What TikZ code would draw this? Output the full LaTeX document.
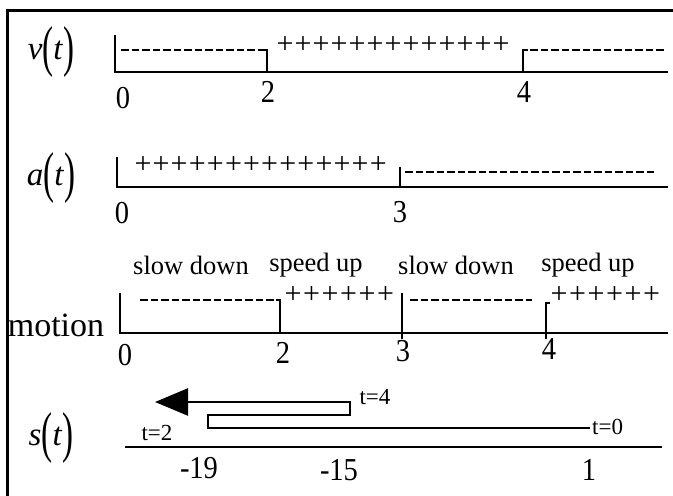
\documentclass[tikz,border=0pt]{standalone}
\usepackage{fontspec}
\usepackage{graphicx}
\setmainfont{Liberation Serif}
\usetikzlibrary{arrows.meta}
\newcommand{\fnlab}[1]{\textit{#1}\raisebox{-0.17em}{\scalebox{1}[1.7]{(}}\textit{t}\raisebox{-0.17em}{\scalebox{1}[1.7]{)}}}
\newcommand{\tallnum}[1]{\scalebox{1}[1.12]{#1}}
\begin{document}
\begin{tikzpicture}[x=1pt,y=-1pt,
  axis/.style={line width=2.6pt},
  tickline/.style={line width=2.2pt},
  dashrow/.style={line width=2pt, dash pattern=on 7.5pt off 3pt},
  num/.style={font=\fontsize{28.5}{30}\selectfont, inner sep=0pt},
  plussign/.style={font=\fontsize{30}{30}\selectfont, inner sep=0pt},
  fnlabel/.style={font=\fontsize{33}{36}\selectfont, inner sep=0pt},
  phase/.style={font=\fontsize{26.5}{30}\selectfont, inner sep=0pt},
  tlab/.style={font=\fontsize{23}{26}\selectfont, inner sep=0pt}]
\useasboundingbox (0,0) rectangle (673,496);
% frame
\draw[line width=3pt] (7,496) -- (7,10) -- (673,10);
% ---- v(t)
\node[fnlabel] (vt) at (51,52) {\fnlab{v}};
\draw[axis] (115,35) -- (115,72) -- (668,72);
\draw[dashrow] (121,50) -- (262,50);
\draw[tickline] (262,50) -- (267,50) -- (267,72);
\foreach \i in {0,...,12} \node[plussign] (vp\i) at ({285+18*\i},45) {+};
\draw[tickline] (523,72) -- (523,50) -- (528,50);
\draw[dashrow] (530,50) -- (666,50);
\node[num] (v0) at (123,98) {\tallnum{0}};
\node[num] (v2) at (268,92) {\tallnum{2}};
\node[num] (v4) at (524,92) {\tallnum{4}};
% ---- a(t)
\node[fnlabel] (at) at (51,178) {\fnlab{a}};
\draw[axis] (117,157) -- (117,187) -- (668,187);
\foreach \i in {0,...,13} \node[plussign] (ap\i) at ({143+18.1*\i},165) {+};
\draw[tickline] (400,187) -- (400,167);
\draw[dashrow] (405,172) -- (657,172);
\node[num] (a0) at (122,213) {\tallnum{0}};
\node[num] (a3) at (400,212) {\tallnum{3}};
% ---- motion
\node[phase] (ph1) at (191,265) {slow down};
\node[phase] (ph2) at (316,265) {speed up};
\node[phase] (ph3) at (456,265) {slow down};
\node[phase] (ph4) at (588,265) {speed up};
\node[font=\fontsize{34}{36}\selectfont, inner sep=0pt] (mo) at (56,325) {motion};
\draw[axis] (120,293) -- (120,333) -- (668,333);
\draw[dashrow] (140,300) -- (276,300);
\draw[tickline] (276,300) -- (280,300) -- (280,333);
\foreach \i in {0,...,5} \node[plussign] (mp\i) at ({293+18.5*\i},295) {+};
\draw[tickline] (402,293) -- (402,339);
\draw[dashrow] (410,300) -- (532,300);
\draw[tickline] (546,339) -- (546,303) -- (550,303);
\foreach \i in {0,...,5} \node[plussign] (mq\i) at ({559+18.5*\i},295) {+};
\node[num] (m0) at (125,355) {\tallnum{0}};
\node[num] (m2) at (283,353) {\tallnum{2}};
\node[num] (m3) at (403,351) {\tallnum{3}};
\node[num] (m4) at (549,349) {\tallnum{4}};
% ---- s(t)
\node[fnlabel] (st) at (51,438) {\fnlab{s}};
\draw[axis] (125,447) -- (662,447);
\coordinate (s0) at (590,428);
\coordinate (tip) at (155,402);
\draw[line width=2.4pt, -{Triangle[length=33pt,width=27pt]}] (s0) -- (208,428) -- (208,415) -- (350,415) -- (350,402) -- (tip);
\node[tlab] (t2) at (157,433) {t=2};
\node[tlab] (t4) at (375,397) {t=4};
\node[tlab, anchor=west] (t0) at (592,427) {t=0};
\node[num] (n19) at (199,468) {\tallnum{-19}};
\node[num] (n15) at (339,470) {\tallnum{-15}};
\node[num] (n1) at (589,470) {\tallnum{1}};
\end{tikzpicture}
\end{document}
